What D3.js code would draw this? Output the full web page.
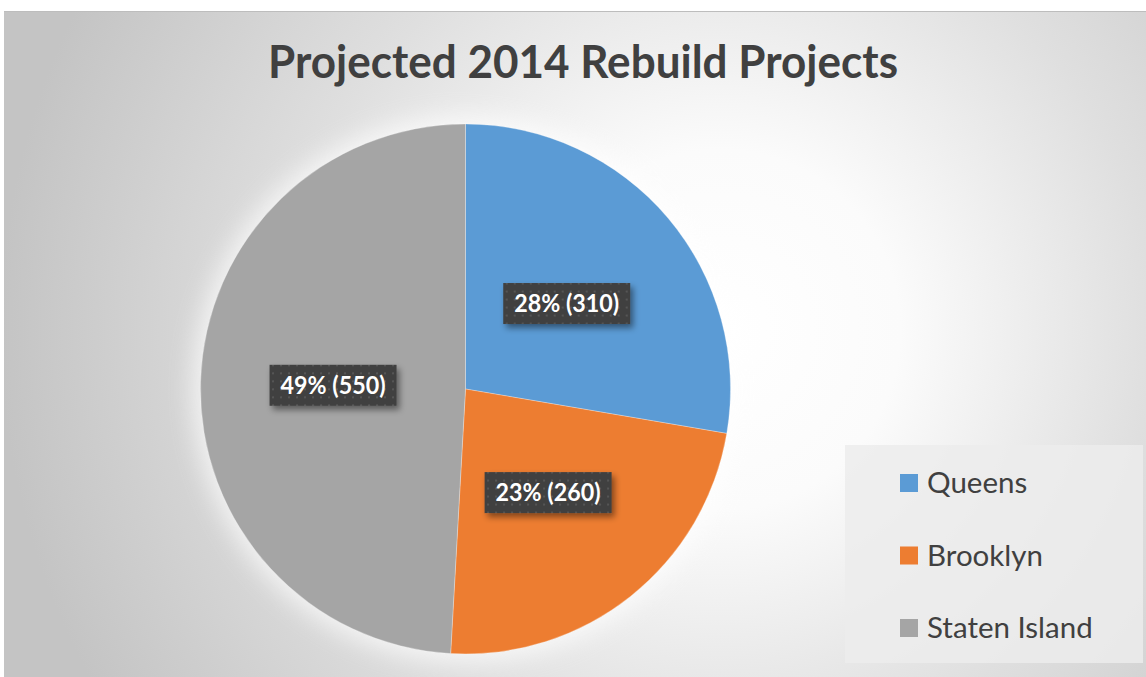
<!DOCTYPE html>
<html>
<head>
<meta charset="utf-8">
<script src="https://cdn.jsdelivr.net/npm/d3@7"></script>
<style>
  html, body { margin: 0; padding: 0; background: #ffffff; }
  svg { display: block; }
</style>
</head>
<body>
<svg id="chart" width="1146" height="677"></svg>
<script>
const categories = ["Queens", "Brooklyn", "Staten Island"];
const values = [310, 260, 550];
const percentLabels = ["28%", "23%", "49%"];
const colors = ["#5B9BD5", "#ED7D31", "#A5A5A5"];
const title = "Projected 2014 Rebuild Projects";

const W = 1146, H = 677;
const svg = d3.select("#chart");
const defs = svg.append("defs");

// background gradient
const bg = defs.append("radialGradient").attr("id", "bgGrad")
  .attr("gradientUnits", "userSpaceOnUse")
  .attr("cx", 720).attr("cy", 330).attr("r", 720);
bg.append("stop").attr("offset", "0").attr("stop-color", "#ffffff");
bg.append("stop").attr("offset", "0.25").attr("stop-color", "#fbfbfb");
bg.append("stop").attr("offset", "0.6").attr("stop-color", "#dfdfdf");
bg.append("stop").attr("offset", "1").attr("stop-color", "#c4c4c4");

// dotted pattern for labels
const pat = defs.append("pattern").attr("id", "dots")
  .attr("patternUnits", "userSpaceOnUse").attr("width", 8).attr("height", 8);
pat.append("rect").attr("width", 8).attr("height", 8).attr("fill", "#404040");
pat.append("rect").attr("x", 3).attr("y", 3).attr("width", 2).attr("height", 2).attr("fill", "#555555");

// shadow filter
const sh = defs.append("filter").attr("id", "shadow")
  .attr("x", "-20%").attr("y", "-30%").attr("width", "150%").attr("height", "180%");
sh.append("feDropShadow").attr("dx", 3).attr("dy", 4).attr("stdDeviation", 3)
  .attr("flood-color", "#000").attr("flood-opacity", 0.45);

// glow filter
const gl = defs.append("filter").attr("id", "glow")
  .attr("x", "-30%").attr("y", "-30%").attr("width", "160%").attr("height", "160%");
gl.append("feGaussianBlur").attr("stdDeviation", 12);

// chart area
svg.append("rect").attr("x", 4).attr("y", 11).attr("width", W - 4).attr("height", H - 11)
  .attr("fill", "url(#bgGrad)");
svg.append("line").attr("x1", 4).attr("x2", W).attr("y1", 11.5).attr("y2", 11.5)
  .attr("stroke", "#bdbdbd").attr("stroke-width", 1);

// title
svg.append("text").attr("x", 583).attr("y", 78)
  .attr("text-anchor", "middle")
  .attr("font-family", "Lato, 'Open Sans', sans-serif")
  .attr("font-weight", "bold").attr("font-size", 45)
  .attr("fill", "#404040")
  .attr("textLength", 630).attr("lengthAdjust", "spacingAndGlyphs")
  .text(title);

// pie
const cx = 465.5, cy = 389, R = 265;
const pie = d3.pie().sort(null).value(d => d)(values);
const arc = d3.arc().innerRadius(0).outerRadius(R);
const labelArc = d3.arc().innerRadius(R * 0.5).outerRadius(R * 0.5);

const g = svg.append("g").attr("transform", `translate(${cx},${cy})`);
g.append("circle").attr("r", R + 8).attr("fill", "#ffffff").attr("opacity", 0.7)
  .attr("filter", "url(#glow)");
g.selectAll("path.slice").data(pie).join("path").attr("class", "slice")
  .attr("d", arc)
  .attr("fill", (d, i) => colors[i])
  .attr("stroke", "rgba(255,255,255,0.35)").attr("stroke-width", 0.8);

// labels
const lbl = g.selectAll("g.lbl").data(pie).join("g").attr("class", "lbl")
  .attr("transform", d => `translate(${labelArc.centroid(d)})`);
lbl.append("rect").attr("x", -63.5).attr("y", -20.5).attr("width", 127).attr("height", 41)
  .attr("fill", "url(#dots)").attr("filter", "url(#shadow)");
lbl.append("text").attr("x", 0).attr("y", 8.5)
  .attr("text-anchor", "middle")
  .attr("font-family", "Lato, 'Open Sans', sans-serif")
  .attr("font-weight", "bold").attr("font-size", 25)
  .attr("fill", "#ffffff")
  .attr("textLength", 105).attr("lengthAdjust", "spacingAndGlyphs")
  .text((d, i) => `${percentLabels[i]} (${values[i]})`);

// legend
const lg = svg.append("g");
lg.append("rect").attr("x", 845).attr("y", 445).attr("width", 298).attr("height", 218)
  .attr("fill", "#ececec").attr("opacity", 0.85);
const legendY = d3.scalePoint().domain(categories).range([483, 628]);
const items = lg.selectAll("g.item").data(categories).join("g").attr("class", "item")
  .attr("transform", d => `translate(900,${legendY(d)})`);
items.append("rect").attr("x", 0).attr("y", -9).attr("width", 18).attr("height", 18)
  .attr("fill", (d, i) => colors[i]);
items.append("text").attr("x", 27).attr("y", 10)
  .attr("font-family", "Lato, 'Open Sans', sans-serif")
  .attr("font-size", 29.5).attr("fill", "#404040")
  .text(d => d);
</script>
</body>
</html>
